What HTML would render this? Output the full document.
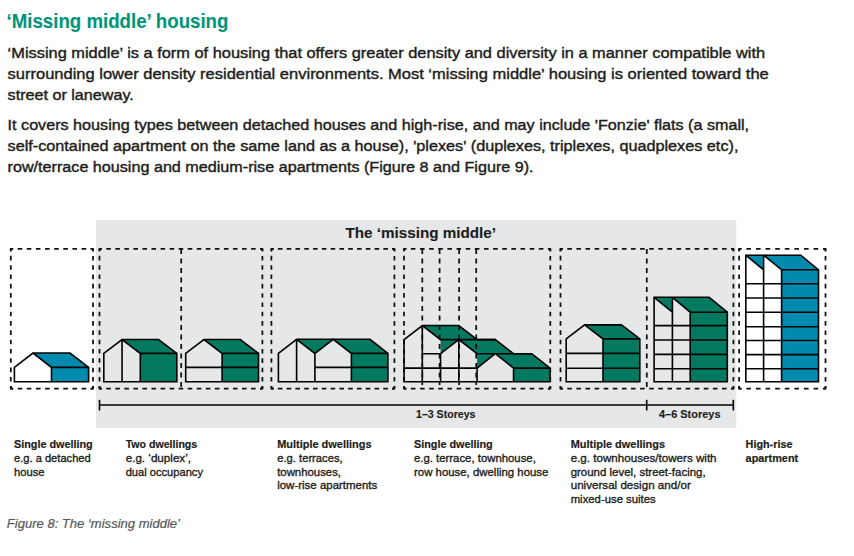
<!DOCTYPE html>
<html><head><meta charset="utf-8"><title>Missing middle housing</title>
<style>
html,body{margin:0;padding:0;background:#fff;width:854px;height:556px;overflow:hidden}
svg{display:block;font-family:"Liberation Sans", sans-serif}
</style></head><body>
<svg width="854" height="556" viewBox="0 0 854 556">
<rect x="96" y="220" width="640.3" height="208" fill="#E6E7E8"/>
<line x1="10.8" y1="248.9" x2="93" y2="248.9" stroke="#111" stroke-width="1.75" stroke-dasharray="4.6 4.53" stroke-dashoffset="2.3"/>
<line x1="93" y1="248.9" x2="93" y2="388.5" stroke="#111" stroke-width="1.75" stroke-dasharray="4.6 4.71" stroke-dashoffset="2.3"/>
<line x1="93" y1="388.5" x2="10.8" y2="388.5" stroke="#111" stroke-width="1.75" stroke-dasharray="4.6 4.53" stroke-dashoffset="2.3"/>
<line x1="10.8" y1="388.5" x2="10.8" y2="248.9" stroke="#111" stroke-width="1.75" stroke-dasharray="4.6 4.71" stroke-dashoffset="2.3"/>
<path d="M10.8,251.3 L10.8,248.9 L13.2,248.9" fill="none" stroke="#111" stroke-width="1.75" stroke-linejoin="miter"/>
<path d="M93,251.3 L93,248.9 L90.6,248.9" fill="none" stroke="#111" stroke-width="1.75" stroke-linejoin="miter"/>
<path d="M93,386.1 L93,388.5 L90.6,388.5" fill="none" stroke="#111" stroke-width="1.75" stroke-linejoin="miter"/>
<path d="M10.8,386.1 L10.8,388.5 L13.2,388.5" fill="none" stroke="#111" stroke-width="1.75" stroke-linejoin="miter"/>
<line x1="99.5" y1="248.9" x2="262.4" y2="248.9" stroke="#111" stroke-width="1.75" stroke-dasharray="4.6 4.45" stroke-dashoffset="2.3"/>
<line x1="262.4" y1="248.9" x2="262.4" y2="388.5" stroke="#111" stroke-width="1.75" stroke-dasharray="4.6 4.71" stroke-dashoffset="2.3"/>
<line x1="262.4" y1="388.5" x2="99.5" y2="388.5" stroke="#111" stroke-width="1.75" stroke-dasharray="4.6 4.45" stroke-dashoffset="2.3"/>
<line x1="99.5" y1="388.5" x2="99.5" y2="248.9" stroke="#111" stroke-width="1.75" stroke-dasharray="4.6 4.71" stroke-dashoffset="2.3"/>
<path d="M99.5,251.3 L99.5,248.9 L101.9,248.9" fill="none" stroke="#111" stroke-width="1.75" stroke-linejoin="miter"/>
<path d="M262.4,251.3 L262.4,248.9 L260,248.9" fill="none" stroke="#111" stroke-width="1.75" stroke-linejoin="miter"/>
<path d="M262.4,386.1 L262.4,388.5 L260,388.5" fill="none" stroke="#111" stroke-width="1.75" stroke-linejoin="miter"/>
<path d="M99.5,386.1 L99.5,388.5 L101.9,388.5" fill="none" stroke="#111" stroke-width="1.75" stroke-linejoin="miter"/>
<line x1="181.2" y1="248.9" x2="181.2" y2="388.5" stroke="#111" stroke-width="1.75" stroke-dasharray="5.2 4.3"/>
<line x1="271.4" y1="248.9" x2="394.4" y2="248.9" stroke="#111" stroke-width="1.75" stroke-dasharray="4.6 4.19" stroke-dashoffset="2.3"/>
<line x1="394.4" y1="248.9" x2="394.4" y2="388.5" stroke="#111" stroke-width="1.75" stroke-dasharray="4.6 4.71" stroke-dashoffset="2.3"/>
<line x1="394.4" y1="388.5" x2="271.4" y2="388.5" stroke="#111" stroke-width="1.75" stroke-dasharray="4.6 4.19" stroke-dashoffset="2.3"/>
<line x1="271.4" y1="388.5" x2="271.4" y2="248.9" stroke="#111" stroke-width="1.75" stroke-dasharray="4.6 4.71" stroke-dashoffset="2.3"/>
<path d="M271.4,251.3 L271.4,248.9 L273.8,248.9" fill="none" stroke="#111" stroke-width="1.75" stroke-linejoin="miter"/>
<path d="M394.4,251.3 L394.4,248.9 L392,248.9" fill="none" stroke="#111" stroke-width="1.75" stroke-linejoin="miter"/>
<path d="M394.4,386.1 L394.4,388.5 L392,388.5" fill="none" stroke="#111" stroke-width="1.75" stroke-linejoin="miter"/>
<path d="M271.4,386.1 L271.4,388.5 L273.8,388.5" fill="none" stroke="#111" stroke-width="1.75" stroke-linejoin="miter"/>
<line x1="404" y1="248.9" x2="550.3" y2="248.9" stroke="#111" stroke-width="1.75" stroke-dasharray="4.6 4.54" stroke-dashoffset="2.3"/>
<line x1="550.3" y1="248.9" x2="550.3" y2="388.5" stroke="#111" stroke-width="1.75" stroke-dasharray="4.6 4.71" stroke-dashoffset="2.3"/>
<line x1="550.3" y1="388.5" x2="404" y2="388.5" stroke="#111" stroke-width="1.75" stroke-dasharray="4.6 4.54" stroke-dashoffset="2.3"/>
<line x1="404" y1="388.5" x2="404" y2="248.9" stroke="#111" stroke-width="1.75" stroke-dasharray="4.6 4.71" stroke-dashoffset="2.3"/>
<path d="M404,251.3 L404,248.9 L406.4,248.9" fill="none" stroke="#111" stroke-width="1.75" stroke-linejoin="miter"/>
<path d="M550.3,251.3 L550.3,248.9 L547.9,248.9" fill="none" stroke="#111" stroke-width="1.75" stroke-linejoin="miter"/>
<path d="M550.3,386.1 L550.3,388.5 L547.9,388.5" fill="none" stroke="#111" stroke-width="1.75" stroke-linejoin="miter"/>
<path d="M404,386.1 L404,388.5 L406.4,388.5" fill="none" stroke="#111" stroke-width="1.75" stroke-linejoin="miter"/>
<line x1="560.5" y1="248.9" x2="733.4" y2="248.9" stroke="#111" stroke-width="1.75" stroke-dasharray="4.6 4.5" stroke-dashoffset="2.3"/>
<line x1="733.4" y1="248.9" x2="733.4" y2="388.5" stroke="#111" stroke-width="1.75" stroke-dasharray="4.6 4.71" stroke-dashoffset="2.3"/>
<line x1="733.4" y1="388.5" x2="560.5" y2="388.5" stroke="#111" stroke-width="1.75" stroke-dasharray="4.6 4.5" stroke-dashoffset="2.3"/>
<line x1="560.5" y1="388.5" x2="560.5" y2="248.9" stroke="#111" stroke-width="1.75" stroke-dasharray="4.6 4.71" stroke-dashoffset="2.3"/>
<path d="M560.5,251.3 L560.5,248.9 L562.9,248.9" fill="none" stroke="#111" stroke-width="1.75" stroke-linejoin="miter"/>
<path d="M733.4,251.3 L733.4,248.9 L731,248.9" fill="none" stroke="#111" stroke-width="1.75" stroke-linejoin="miter"/>
<path d="M733.4,386.1 L733.4,388.5 L731,388.5" fill="none" stroke="#111" stroke-width="1.75" stroke-linejoin="miter"/>
<path d="M560.5,386.1 L560.5,388.5 L562.9,388.5" fill="none" stroke="#111" stroke-width="1.75" stroke-linejoin="miter"/>
<line x1="646.8" y1="248.9" x2="646.8" y2="388.5" stroke="#111" stroke-width="1.75" stroke-dasharray="5.2 4.3"/>
<line x1="739.1" y1="248.9" x2="825.5" y2="248.9" stroke="#111" stroke-width="1.75" stroke-dasharray="4.6 5" stroke-dashoffset="2.3"/>
<line x1="825.5" y1="248.9" x2="825.5" y2="388.5" stroke="#111" stroke-width="1.75" stroke-dasharray="4.6 4.71" stroke-dashoffset="2.3"/>
<line x1="825.5" y1="388.5" x2="739.1" y2="388.5" stroke="#111" stroke-width="1.75" stroke-dasharray="4.6 5" stroke-dashoffset="2.3"/>
<line x1="739.1" y1="388.5" x2="739.1" y2="248.9" stroke="#111" stroke-width="1.75" stroke-dasharray="4.6 4.71" stroke-dashoffset="2.3"/>
<path d="M739.1,251.3 L739.1,248.9 L741.5,248.9" fill="none" stroke="#111" stroke-width="1.75" stroke-linejoin="miter"/>
<path d="M825.5,251.3 L825.5,248.9 L823.1,248.9" fill="none" stroke="#111" stroke-width="1.75" stroke-linejoin="miter"/>
<path d="M825.5,386.1 L825.5,388.5 L823.1,388.5" fill="none" stroke="#111" stroke-width="1.75" stroke-linejoin="miter"/>
<path d="M739.1,386.1 L739.1,388.5 L741.5,388.5" fill="none" stroke="#111" stroke-width="1.75" stroke-linejoin="miter"/>
<polygon points="14.4,381.7 14.4,367.4 32.95,353 51.5,367.4 51.5,381.7" fill="#fff"/>
<polygon points="32.95,353 70.05,353 88.6,367.4 51.5,367.4" fill="#008BAE"/>
<polygon points="51.5,367.4 88.6,367.4 88.6,381.7 51.5,381.7" fill="#008BAE"/>
<path d="M14.4,381.7 L14.4,367.4 L32.95,353 L70.05,353 L88.6,367.4 L88.6,381.7 Z" fill="none" stroke="#000" stroke-width="1.6" stroke-linejoin="miter" stroke-linecap="butt"/>
<path d="M32.95,353 L51.5,367.4 L88.6,367.4 M51.5,367.4 L51.5,381.7" fill="none" stroke="#000" stroke-width="1.6" stroke-linejoin="miter" stroke-linecap="butt"/>
<polygon points="103.8,381.7 103.8,353.4 122.05,339.5 140.3,353.4 140.3,381.7" fill="none"/>
<polygon points="122.05,339.5 158.55,339.5 176.8,353.4 140.3,353.4" fill="#037A60"/>
<polygon points="140.3,353.4 176.8,353.4 176.8,381.7 140.3,381.7" fill="#037A60"/>
<path d="M103.8,381.7 L103.8,353.4 L122.05,339.5 L158.55,339.5 L176.8,353.4 L176.8,381.7 Z" fill="none" stroke="#000" stroke-width="1.6" stroke-linejoin="miter" stroke-linecap="butt"/>
<path d="M122.05,339.5 L140.3,353.4 L176.8,353.4 M140.3,353.4 L140.3,381.7" fill="none" stroke="#000" stroke-width="1.6" stroke-linejoin="miter" stroke-linecap="butt"/>
<line x1="122.05" y1="339.5" x2="122.05" y2="381.7" stroke="#000" stroke-width="1.6"/>
<polygon points="185.7,381.7 185.7,353.4 203.9,339.5 222.1,353.4 222.1,381.7" fill="none"/>
<polygon points="203.9,339.5 240.3,339.5 258.5,353.4 222.1,353.4" fill="#037A60"/>
<polygon points="222.1,353.4 258.5,353.4 258.5,381.7 222.1,381.7" fill="#037A60"/>
<path d="M185.7,381.7 L185.7,353.4 L203.9,339.5 L240.3,339.5 L258.5,353.4 L258.5,381.7 Z" fill="none" stroke="#000" stroke-width="1.6" stroke-linejoin="miter" stroke-linecap="butt"/>
<path d="M203.9,339.5 L222.1,353.4 L258.5,353.4 M222.1,353.4 L222.1,381.7" fill="none" stroke="#000" stroke-width="1.6" stroke-linejoin="miter" stroke-linecap="butt"/>
<line x1="185.7" y1="367.4" x2="258.5" y2="367.4" stroke="#000" stroke-width="1.6"/>
<polygon points="296.6,339.3 333.2,339.3 314.9,353.4" fill="#037A60"/>
<polygon points="333.2,339.3 370,339.3 387.9,353.4 351.4,353.4" fill="#037A60"/>
<polygon points="351.4,353.4 387.9,353.4 387.9,381.7 351.4,381.7" fill="#037A60"/>
<path d="M278.4,381.7 L278.4,353.4 L296.6,339.3 L370.0,339.3 L387.9,353.4 L387.9,381.7 Z" fill="none" stroke="#000" stroke-width="1.6" stroke-linejoin="miter" stroke-linecap="butt"/>
<path d="M296.6,339.3 L314.9,353.4 L333.2,339.3 L351.4,353.4 L387.9,353.4 M296.6,339.3 L296.6,381.7 M314.9,353.4 L314.9,381.7 M351.4,353.4 L351.4,381.7 M314.9,367.4 L387.9,367.4" fill="none" stroke="#000" stroke-width="1.6" stroke-linejoin="miter" stroke-linecap="butt"/>
<polygon points="422.3,325.5 458.8,325.5 477.05,339.6 440.55,339.6" fill="#037A60"/>
<polygon points="440.55,339.6 458.8,339.6 440.55,353.7" fill="#037A60"/>
<polygon points="458.8,339.6 495.3,339.6 513.55,353.7 477.05,353.7" fill="#037A60"/>
<polygon points="477.05,353.7 495.3,353.7 477.05,368.1" fill="#037A60"/>
<polygon points="495.3,353.7 531.8,353.7 550.05,368.1 513.55,368.1" fill="#037A60"/>
<polygon points="513.55,368.1 550.05,368.1 550.05,381.7 513.55,381.7" fill="#037A60"/>
<path d="M404.05,381.7 L404.05,339.6 L422.3,325.5 L458.8,325.5 L477.05,339.6 L495.3,339.6 L513.55,353.7 L531.8,353.7 L550.05,368.1 L550.05,381.7 Z" fill="none" stroke="#000" stroke-width="1.6" stroke-linejoin="miter" stroke-linecap="butt"/>
<path d="M422.3,325.5 L440.55,339.6 L495.3,339.6 M440.55,353.7 L458.8,339.6 L477.05,353.7 L531.8,353.7 M477.05,368.1 L495.3,353.7 L513.55,368.1 L550.05,368.1 M513.55,368.1 L513.55,381.7" fill="none" stroke="#000" stroke-width="1.6" stroke-linejoin="miter" stroke-linecap="butt"/>
<path d="M422.3,325.5 L422.3,381.7 M440.55,353.7 L440.55,381.7 M458.8,339.6 L458.8,381.7 M477.05,368.1 L477.05,381.7 M422.3,353.7 L440.55,353.7 M404.05,368.1 L477.05,368.1" fill="none" stroke="#000" stroke-width="1.6" stroke-linejoin="miter" stroke-linecap="butt"/>
<line x1="422.3" y1="248.9" x2="422.3" y2="385" stroke="#111" stroke-width="1.75" stroke-dasharray="5.2 4.3"/>
<line x1="439.6" y1="248.9" x2="439.6" y2="385" stroke="#111" stroke-width="1.75" stroke-dasharray="5.2 4.3"/>
<line x1="459.1" y1="248.9" x2="459.1" y2="385" stroke="#111" stroke-width="1.75" stroke-dasharray="5.2 4.3"/>
<line x1="476.2" y1="248.9" x2="476.2" y2="385" stroke="#111" stroke-width="1.75" stroke-dasharray="5.2 4.3"/>
<polygon points="566.2,381.7 566.2,338.9 584.6,324.9 603,338.9 603,381.7" fill="none"/>
<polygon points="584.6,324.9 621.4,324.9 639.8,338.9 603,338.9" fill="#037A60"/>
<polygon points="603,338.9 639.8,338.9 639.8,381.7 603,381.7" fill="#037A60"/>
<path d="M566.2,381.7 L566.2,338.9 L584.6,324.9 L621.4,324.9 L639.8,338.9 L639.8,381.7 Z" fill="none" stroke="#000" stroke-width="1.6" stroke-linejoin="miter" stroke-linecap="butt"/>
<path d="M584.6,324.9 L603,338.9 L639.8,338.9 M603,338.9 L603,381.7" fill="none" stroke="#000" stroke-width="1.6" stroke-linejoin="miter" stroke-linecap="butt"/>
<line x1="566.2" y1="353.4" x2="639.8" y2="353.4" stroke="#000" stroke-width="1.6"/>
<line x1="566.2" y1="368.3" x2="639.8" y2="368.3" stroke="#000" stroke-width="1.6"/>
<polygon points="654.1,297.3 654.1,381.7 690.2,381.7 690.2,312.2 672.4,297.3" fill="#E6E7E8"/>
<polygon points="654.1,297.3 672.4,297.3 672.4,312.2" fill="#037A60"/>
<polygon points="672.4,297.3 709.1,297.3 727.3,312.2 690.2,312.2" fill="#037A60"/>
<polygon points="690.2,312.2 727.3,312.2 727.3,381.7 690.2,381.7" fill="#037A60"/>
<polygon points="654.1,297.3 672.4,312.2 672.4,381.7 654.1,381.7" fill="#E6E7E8"/>
<polygon points="672.4,297.3 690.2,312.2 690.2,381.7 672.4,381.7" fill="#E6E7E8"/>
<path d="M654.1,381.7 L654.1,297.3 L709.1,297.3 L727.3,312.2 L727.3,381.7 Z" fill="none" stroke="#000" stroke-width="1.6" stroke-linejoin="miter" stroke-linecap="butt"/>
<path d="M654.1,297.3 L672.4,312.2 M672.4,297.3 L672.4,381.7 M672.4,297.3 L690.2,312.2 L727.3,312.2 M690.2,312.2 L690.2,381.7" fill="none" stroke="#000" stroke-width="1.6" stroke-linejoin="miter" stroke-linecap="butt"/>
<line x1="654.1" y1="325.6" x2="727.3" y2="325.6" stroke="#000" stroke-width="1.6"/>
<line x1="654.1" y1="340" x2="727.3" y2="340" stroke="#000" stroke-width="1.6"/>
<line x1="654.1" y1="354.4" x2="727.3" y2="354.4" stroke="#000" stroke-width="1.6"/>
<line x1="654.1" y1="368.8" x2="727.3" y2="368.8" stroke="#000" stroke-width="1.6"/>
<polygon points="745.8,255.2 745.8,381.7 781.6,381.7 781.6,269.8 763.6,255.2" fill="#fff"/>
<polygon points="745.8,255.2 763.6,255.2 763.6,269.8" fill="#008BAE"/>
<polygon points="763.6,255.2 800.8,255.2 818.5,269.8 781.6,269.8" fill="#008BAE"/>
<polygon points="781.6,269.8 818.5,269.8 818.5,381.7 781.6,381.7" fill="#008BAE"/>
<polygon points="745.8,255.2 763.6,269.8 763.6,381.7 745.8,381.7" fill="#fff"/>
<polygon points="763.6,255.2 781.6,269.8 781.6,381.7 763.6,381.7" fill="#fff"/>
<path d="M745.8,381.7 L745.8,255.2 L800.8,255.2 L818.5,269.8 L818.5,381.7 Z" fill="none" stroke="#000" stroke-width="1.6" stroke-linejoin="miter" stroke-linecap="butt"/>
<path d="M745.8,255.2 L763.6,269.8 M763.6,255.2 L763.6,381.7 M763.6,255.2 L781.6,269.8 L818.5,269.8 M781.6,269.8 L781.6,381.7" fill="none" stroke="#000" stroke-width="1.6" stroke-linejoin="miter" stroke-linecap="butt"/>
<line x1="745.8" y1="283.7" x2="818.5" y2="283.7" stroke="#000" stroke-width="1.6"/>
<line x1="745.8" y1="298" x2="818.5" y2="298" stroke="#000" stroke-width="1.6"/>
<line x1="745.8" y1="312.3" x2="818.5" y2="312.3" stroke="#000" stroke-width="1.6"/>
<line x1="745.8" y1="326.8" x2="818.5" y2="326.8" stroke="#000" stroke-width="1.6"/>
<line x1="745.8" y1="340.5" x2="818.5" y2="340.5" stroke="#000" stroke-width="1.6"/>
<line x1="745.8" y1="354.6" x2="818.5" y2="354.6" stroke="#000" stroke-width="1.6"/>
<line x1="745.8" y1="368.7" x2="818.5" y2="368.7" stroke="#000" stroke-width="1.6"/>
<line x1="99.5" y1="405" x2="733.3" y2="405" stroke="#000" stroke-width="1.6"/>
<line x1="99.5" y1="399.8" x2="99.5" y2="410.5" stroke="#000" stroke-width="1.6"/>
<line x1="646.7" y1="399.8" x2="646.7" y2="410.5" stroke="#000" stroke-width="1.6"/>
<line x1="733.3" y1="399.8" x2="733.3" y2="410.5" stroke="#000" stroke-width="1.6"/>
<text x="6.6" y="27.6" font-size="19.5" font-weight="bold" font-style="normal" fill="#00957A" stroke="#00957A" stroke-width="0.12" textLength="221.8" lengthAdjust="spacingAndGlyphs">‘Missing middle’ housing</text>
<text x="7.6" y="57.6" font-size="14.9" font-weight="normal" font-style="normal" fill="#1D1D1B" stroke="#1D1D1B" stroke-width="0.4" textLength="757.5" lengthAdjust="spacingAndGlyphs">‘Missing middle’ is a form of housing that offers greater density and diversity in a manner compatible with</text>
<text x="7.6" y="78.6" font-size="14.9" font-weight="normal" font-style="normal" fill="#1D1D1B" stroke="#1D1D1B" stroke-width="0.4" textLength="761.2" lengthAdjust="spacingAndGlyphs">surrounding lower density residential environments. Most ‘missing middle’ housing is oriented toward the</text>
<text x="7.6" y="99.9" font-size="14.9" font-weight="normal" font-style="normal" fill="#1D1D1B" stroke="#1D1D1B" stroke-width="0.4" textLength="126.2" lengthAdjust="spacingAndGlyphs">street or laneway.</text>
<text x="7.6" y="129.7" font-size="14.9" font-weight="normal" font-style="normal" fill="#1D1D1B" stroke="#1D1D1B" stroke-width="0.4" textLength="741.5" lengthAdjust="spacingAndGlyphs">It covers housing types between detached houses and high-rise, and may include 'Fonzie' flats (a small,</text>
<text x="7.6" y="150.7" font-size="14.9" font-weight="normal" font-style="normal" fill="#1D1D1B" stroke="#1D1D1B" stroke-width="0.4" textLength="730.8" lengthAdjust="spacingAndGlyphs">self-contained apartment on the same land as a house), 'plexes' (duplexes, triplexes, quadplexes etc),</text>
<text x="7.6" y="171.7" font-size="14.9" font-weight="normal" font-style="normal" fill="#1D1D1B" stroke="#1D1D1B" stroke-width="0.4" textLength="526" lengthAdjust="spacingAndGlyphs">row/terrace housing and medium-rise apartments (Figure 8 and Figure 9).</text>
<text x="345.5" y="238.4" font-size="15" font-weight="bold" font-style="normal" fill="#1D1D1B" stroke="#1D1D1B" stroke-width="0.12" textLength="150.5" lengthAdjust="spacingAndGlyphs">The ‘missing middle’</text>
<text x="416" y="417.8" font-size="10.7" font-weight="bold" font-style="normal" fill="#1D1D1B" stroke="#1D1D1B" stroke-width="0.12" textLength="59.5" lengthAdjust="spacingAndGlyphs">1–3 Storeys</text>
<text x="659" y="417.8" font-size="10.7" font-weight="bold" font-style="normal" fill="#1D1D1B" stroke="#1D1D1B" stroke-width="0.12" textLength="61.5" lengthAdjust="spacingAndGlyphs">4–6 Storeys</text>
<text x="14" y="448" font-size="11.7" font-weight="bold" font-style="normal" fill="#1D1D1B" stroke="#1D1D1B" stroke-width="0.2" textLength="78.7" lengthAdjust="spacingAndGlyphs">Single dwelling</text>
<text x="14" y="461.8" font-size="11.7" font-weight="normal" font-style="normal" fill="#1D1D1B" stroke="#1D1D1B" stroke-width="0.35" textLength="76.7" lengthAdjust="spacingAndGlyphs">e.g. a detached</text>
<text x="14" y="475.5" font-size="11.7" font-weight="normal" font-style="normal" fill="#1D1D1B" stroke="#1D1D1B" stroke-width="0.35" textLength="30.6" lengthAdjust="spacingAndGlyphs">house</text>
<text x="125.7" y="448" font-size="11.7" font-weight="bold" font-style="normal" fill="#1D1D1B" stroke="#1D1D1B" stroke-width="0.2" textLength="71.5" lengthAdjust="spacingAndGlyphs">Two dwellings</text>
<text x="125.7" y="461.8" font-size="11.7" font-weight="normal" font-style="normal" fill="#1D1D1B" stroke="#1D1D1B" stroke-width="0.35" textLength="65.3" lengthAdjust="spacingAndGlyphs">e.g. ‘duplex’,</text>
<text x="125.7" y="475.5" font-size="11.7" font-weight="normal" font-style="normal" fill="#1D1D1B" stroke="#1D1D1B" stroke-width="0.35" textLength="77.3" lengthAdjust="spacingAndGlyphs">dual occupancy</text>
<text x="277.2" y="448" font-size="11.7" font-weight="bold" font-style="normal" fill="#1D1D1B" stroke="#1D1D1B" stroke-width="0.2" textLength="94.3" lengthAdjust="spacingAndGlyphs">Multiple dwellings</text>
<text x="277.2" y="461.8" font-size="11.7" font-weight="normal" font-style="normal" fill="#1D1D1B" stroke="#1D1D1B" stroke-width="0.35" textLength="65.5" lengthAdjust="spacingAndGlyphs">e.g. terraces,</text>
<text x="277.2" y="475.5" font-size="11.7" font-weight="normal" font-style="normal" fill="#1D1D1B" stroke="#1D1D1B" stroke-width="0.35" textLength="63.8" lengthAdjust="spacingAndGlyphs">townhouses,</text>
<text x="277.2" y="489.3" font-size="11.7" font-weight="normal" font-style="normal" fill="#1D1D1B" stroke="#1D1D1B" stroke-width="0.35" textLength="100.1" lengthAdjust="spacingAndGlyphs">low-rise apartments</text>
<text x="414" y="448" font-size="11.7" font-weight="bold" font-style="normal" fill="#1D1D1B" stroke="#1D1D1B" stroke-width="0.2" textLength="78.7" lengthAdjust="spacingAndGlyphs">Single dwelling</text>
<text x="414" y="461.8" font-size="11.7" font-weight="normal" font-style="normal" fill="#1D1D1B" stroke="#1D1D1B" stroke-width="0.35" textLength="121.8" lengthAdjust="spacingAndGlyphs">e.g. terrace, townhouse,</text>
<text x="414" y="475.5" font-size="11.7" font-weight="normal" font-style="normal" fill="#1D1D1B" stroke="#1D1D1B" stroke-width="0.35" textLength="134.4" lengthAdjust="spacingAndGlyphs">row house, dwelling house</text>
<text x="570.7" y="448" font-size="11.7" font-weight="bold" font-style="normal" fill="#1D1D1B" stroke="#1D1D1B" stroke-width="0.2" textLength="94.3" lengthAdjust="spacingAndGlyphs">Multiple dwellings</text>
<text x="570.7" y="461.8" font-size="11.7" font-weight="normal" font-style="normal" fill="#1D1D1B" stroke="#1D1D1B" stroke-width="0.35" textLength="145.9" lengthAdjust="spacingAndGlyphs">e.g. townhouses/towers with</text>
<text x="570.7" y="475.5" font-size="11.7" font-weight="normal" font-style="normal" fill="#1D1D1B" stroke="#1D1D1B" stroke-width="0.35" textLength="134.9" lengthAdjust="spacingAndGlyphs">ground level, street-facing,</text>
<text x="570.7" y="489.3" font-size="11.7" font-weight="normal" font-style="normal" fill="#1D1D1B" stroke="#1D1D1B" stroke-width="0.35" textLength="120.1" lengthAdjust="spacingAndGlyphs">universal design and/or</text>
<text x="570.7" y="503" font-size="11.7" font-weight="normal" font-style="normal" fill="#1D1D1B" stroke="#1D1D1B" stroke-width="0.35" textLength="85" lengthAdjust="spacingAndGlyphs">mixed-use suites</text>
<text x="745.6" y="448" font-size="11.7" font-weight="bold" font-style="normal" fill="#1D1D1B" stroke="#1D1D1B" stroke-width="0.2" textLength="46.8" lengthAdjust="spacingAndGlyphs">High-rise</text>
<text x="745.6" y="461.8" font-size="11.7" font-weight="bold" font-style="normal" fill="#1D1D1B" stroke="#1D1D1B" stroke-width="0.2" textLength="52.6" lengthAdjust="spacingAndGlyphs">apartment</text>
<text x="6.8" y="527.6" font-size="12.5" font-weight="normal" font-style="italic" fill="#57585A" stroke="#57585A" stroke-width="0.2" textLength="173.2" lengthAdjust="spacingAndGlyphs">Figure 8: The ‘missing middle’</text>
</svg>
</body></html>
